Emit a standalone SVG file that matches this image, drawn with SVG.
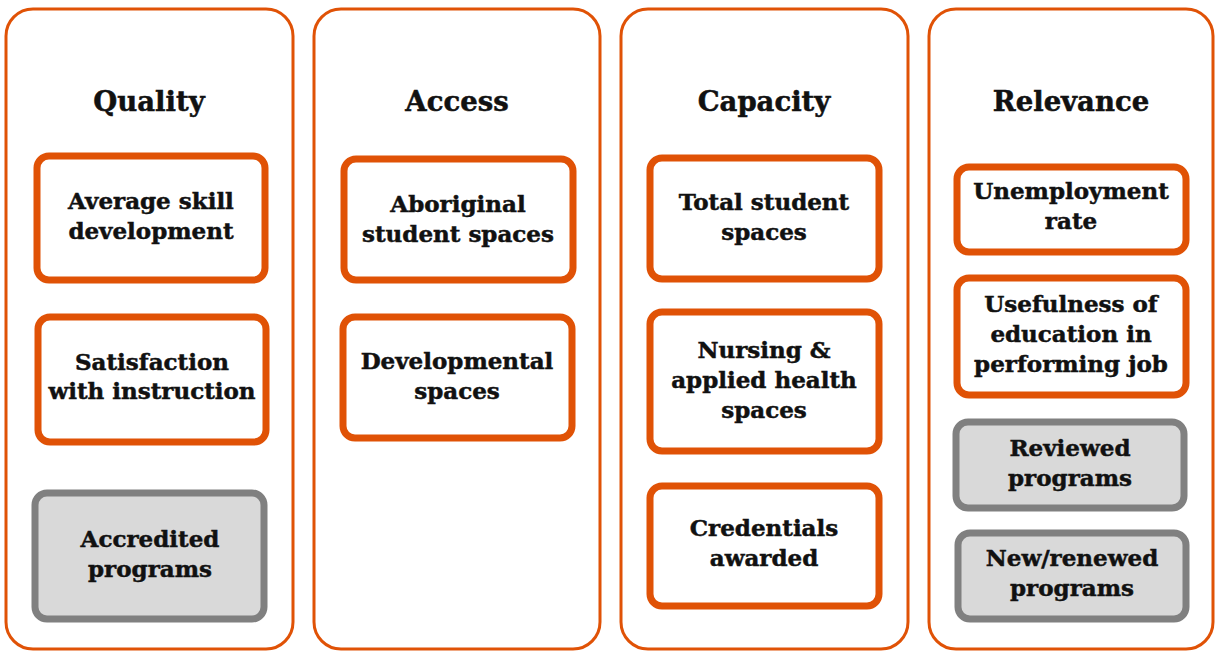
<svg xmlns="http://www.w3.org/2000/svg" width="1215" height="652" viewBox="0 0 1215 652">
<style>
.col{fill:#fff;stroke:#E05206;stroke-width:3}
.ob{fill:#fff;stroke:#E05206;stroke-width:7}
.gb{fill:#D9D9D9;stroke:#808080;stroke-width:7}
text{font-family:"DejaVu Serif","Liberation Serif",serif;font-weight:bold;fill:#111;stroke:#111;stroke-width:0.5;text-anchor:middle}
.t{font-size:27.5px}
.b{font-size:23px}
</style>
<rect width="1215" height="652" fill="#fff"/>
<g id="col-quality">
<rect class="col" x="6" y="9" width="287" height="640" rx="27"/>
<text class="t" x="149" y="111">Quality</text>
</g>
<g id="col-access">
<rect class="col" x="314" y="9" width="286" height="640" rx="27"/>
<text class="t" x="457" y="111">Access</text>
</g>
<g id="col-capacity">
<rect class="col" x="621" y="9" width="287" height="640" rx="27"/>
<text class="t" x="764" y="111">Capacity</text>
</g>
<g id="col-relevance">
<rect class="col" x="929" y="9" width="284" height="640" rx="27"/>
<text class="t" x="1071" y="111">Relevance</text>
</g>
<g id="n-avg"><rect class="ob" x="37" y="156" width="228" height="124" rx="12"/><text class="b"><tspan x="151" y="209">Average skill</tspan><tspan x="151" y="239">development</tspan></text></g>
<g id="n-sat"><rect class="ob" x="38" y="317" width="228" height="125" rx="12"/><text class="b"><tspan x="152" y="370">Satisfaction</tspan><tspan x="152" y="399">with instruction</tspan></text></g>
<g id="n-acc"><rect class="gb" x="35" y="493" width="229" height="126" rx="12"/><text class="b"><tspan x="150" y="547">Accredited</tspan><tspan x="150" y="577">programs</tspan></text></g>
<g id="n-abo"><rect class="ob" x="344" y="159" width="229" height="121" rx="12"/><text class="b"><tspan x="458" y="212">Aboriginal</tspan><tspan x="458" y="242">student spaces</tspan></text></g>
<g id="n-dev"><rect class="ob" x="343" y="317" width="229" height="121" rx="12"/><text class="b"><tspan x="457" y="369">Developmental</tspan><tspan x="457" y="399">spaces</tspan></text></g>
<g id="n-tot"><rect class="ob" x="650" y="158" width="229" height="121" rx="12"/><text class="b"><tspan x="764" y="210">Total student</tspan><tspan x="764" y="240">spaces</tspan></text></g>
<g id="n-nur"><rect class="ob" x="650" y="312" width="229" height="139" rx="12"/><text class="b"><tspan x="764" y="358">Nursing &amp;</tspan><tspan x="764" y="388">applied health</tspan><tspan x="764" y="418">spaces</tspan></text></g>
<g id="n-cre"><rect class="ob" x="650" y="486" width="229" height="120" rx="12"/><text class="b"><tspan x="764" y="536">Credentials</tspan><tspan x="764" y="566">awarded</tspan></text></g>
<g id="n-une"><rect class="ob" x="957" y="167" width="229" height="85" rx="12"/><text class="b"><tspan x="1071" y="199">Unemployment</tspan><tspan x="1071" y="229">rate</tspan></text></g>
<g id="n-use"><rect class="ob" x="957" y="278" width="229" height="117" rx="12"/><text class="b"><tspan x="1071" y="312">Usefulness of</tspan><tspan x="1071" y="342">education in</tspan><tspan x="1071" y="372">performing job</tspan></text></g>
<g id="n-rev"><rect class="gb" x="956" y="422" width="228" height="86" rx="12"/><text class="b"><tspan x="1070" y="456">Reviewed</tspan><tspan x="1070" y="486">programs</tspan></text></g>
<g id="n-new"><rect class="gb" x="958" y="533" width="228" height="86" rx="12"/><text class="b"><tspan x="1072" y="566">New/renewed</tspan><tspan x="1072" y="596">programs</tspan></text></g>
<g id="connectors"></g>
</svg>
